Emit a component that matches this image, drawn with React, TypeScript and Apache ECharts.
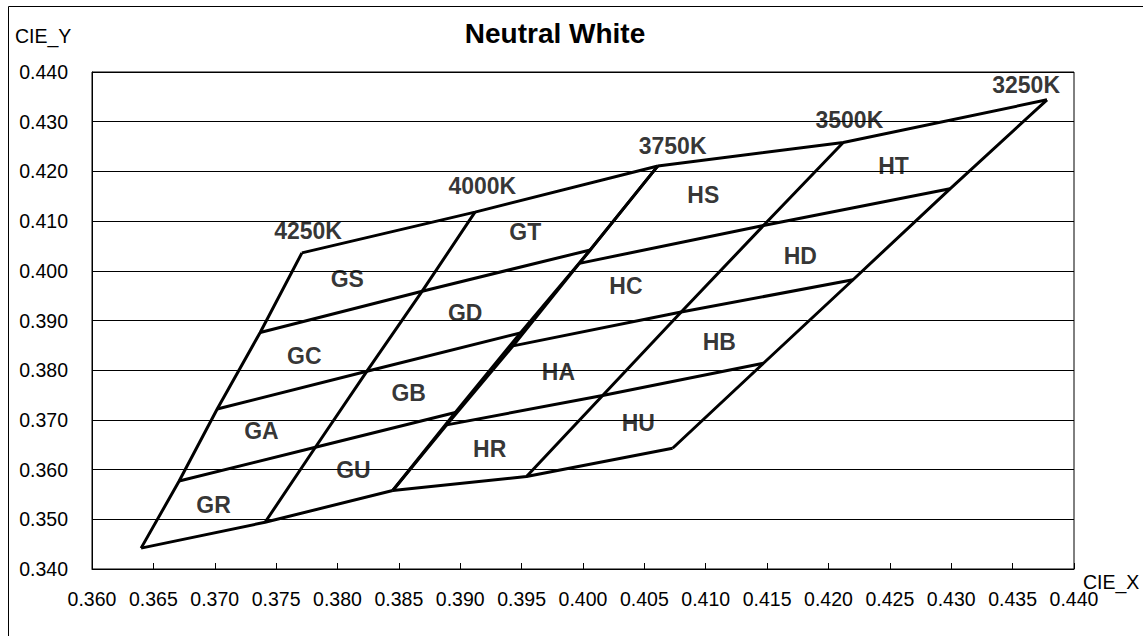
import React, { useEffect, useRef } from "react";
import * as echarts from "echarts";

// ---- Axis ranges / ticks ----
const xMin = 0.36;
const xMax = 0.44;
const xStep = 0.005;
const yMin = 0.34;
const yMax = 0.44;
const yStep = 0.01;

// ---- Iso-CCT boundary lines: vertices from top to bottom ----
const line4250X = [0.3771, 0.3737, 0.3702, 0.3671, 0.364];
const line4250Y = [0.4036, 0.3876, 0.3722, 0.3577, 0.3442];
const line4000X = [0.3912, 0.3869, 0.3824, 0.3782, 0.3741];
const line4000Y = [0.4118, 0.3959, 0.3798, 0.3645, 0.3494];
const line3750GX = [0.4061, 0.4006, 0.3949, 0.3896, 0.3845];
const line3750GY = [0.4211, 0.4042, 0.3875, 0.3715, 0.3558];
const line3750HX = [0.4061, 0.3997, 0.3943, 0.3889, 0.3845];
const line3750HY = [0.4211, 0.4015, 0.3849, 0.369, 0.3558];
const line3500X = [0.4212, 0.4147, 0.408, 0.4016, 0.3954];
const line3500Y = [0.4258, 0.4091, 0.3917, 0.3749, 0.3586];
const line3250X = [0.4378, 0.4299, 0.422, 0.4147, 0.4073];
const line3250Y = [0.4344, 0.4165, 0.3982, 0.3814, 0.3643];

// ---- Text annotations (data coordinates of label centres) ----
const cctNames = ["4250K", "4000K", "3750K", "3500K", "3250K"];
const cctLabelX = [0.3776, 0.3918, 0.4073, 0.4217, 0.4361];
const cctLabelY = [0.4081, 0.417, 0.4252, 0.4303, 0.4374];

const binNames = ["GS", "GT", "GC", "GD", "GA", "GB", "GR", "GU", "HS", "HT", "HC", "HD", "HA", "HB", "HR", "HU"];
const binLabelX = [0.3808, 0.3953, 0.3773, 0.3904, 0.3738, 0.3858, 0.3699, 0.3813, 0.4098, 0.4253, 0.4035, 0.4177, 0.398, 0.4111, 0.3924, 0.4045];
const binLabelY = [0.3984, 0.4079, 0.3829, 0.3915, 0.3677, 0.3754, 0.3529, 0.36, 0.4153, 0.4211, 0.397, 0.4029, 0.3796, 0.3856, 0.3642, 0.3694];

const FONT = "'Liberation Sans', Arial, sans-serif";

function zip(xs: number[], ys: number[]) {
  return xs.map((x, i) => [x, ys[i]]);
}

export default function App() {
  const ref = useRef<HTMLDivElement>(null);

  useEffect(() => {
    if (!ref.current) return;
    const chart = echarts.init(ref.current, undefined, { renderer: "svg" });

    const lineStyle = { color: "#000", width: 3 };
    const mkLine = (data: number[][]) => ({
      type: "line",
      data,
      symbol: "none",
      lineStyle,
      silent: true,
      z: 3,
    });

    const series: any[] = [];
    const gCols = [
      [line4250X, line4250Y],
      [line4000X, line4000Y],
      [line3750GX, line3750GY],
    ];
    const hCols = [
      [line3750HX, line3750HY],
      [line3500X, line3500Y],
      [line3250X, line3250Y],
    ];
    [gCols, hCols].forEach((cols) => {
      cols.forEach(([xs, ys]) => series.push(mkLine(zip(xs, ys))));
      for (let r = 0; r < 5; r++) {
        series.push(mkLine(cols.map(([xs, ys]) => [xs[r], ys[r]])));
      }
    });

    const labelSeries = (names: string[], xs: number[], ys: number[], size: number) => ({
      type: "scatter",
      data: names.map((n, i) => [xs[i], ys[i], n]),
      symbol: "circle",
      symbolSize: 1,
      itemStyle: { color: "rgba(0,0,0,0)" },
      silent: true,
      z: 4,
      label: {
        show: true,
        position: "inside",
        formatter: (p: any) => p.data[2],
        color: "#000",
        textBorderWidth: 0,
        fontWeight: "bold",
        fontSize: size,
        fontFamily: FONT,
      },
    });
    series.push(labelSeries(cctNames, cctLabelX, cctLabelY, 23));
    series.push(labelSeries(binNames, binLabelX, binLabelY, 23));

    chart.setOption({
      animation: false,
      backgroundColor: "#fff",
      textStyle: { fontFamily: FONT },
      grid: {
        left: 92,
        top: 72,
        width: 982,
        height: 497,
        show: true,
        borderColor: "#000",
        borderWidth: 1,
        backgroundColor: "transparent",
      },
      xAxis: {
        type: "value",
        min: xMin,
        max: xMax,
        interval: xStep,
        axisLine: { show: true, onZero: false, lineStyle: { color: "#000", width: 1 } },
        axisTick: { show: true, inside: true, length: 6, lineStyle: { color: "#000" } },
        axisLabel: {
          formatter: (v: number) => v.toFixed(3),
          fontSize: 19.5,
          color: "#000",
          margin: 20,
          fontFamily: FONT,
        },
        splitLine: { show: false },
      },
      yAxis: {
        type: "value",
        min: yMin,
        max: yMax,
        interval: yStep,
        axisLine: { show: true, onZero: false, lineStyle: { color: "#000", width: 1 } },
        axisTick: { show: false },
        axisLabel: {
          formatter: (v: number) => v.toFixed(3),
          fontSize: 19.5,
          color: "#000",
          margin: 24,
          fontFamily: FONT,
        },
        splitLine: { show: true, lineStyle: { color: "#000", width: 1 } },
      },
      graphic: [
        {
          type: "rect",
          shape: { x: 8.5, y: 6.5, width: 1200, height: 700 },
          style: { fill: "none", stroke: "#000", lineWidth: 1 },
          silent: true,
        },
        {
          type: "text",
          x: 555,
          y: 33,
          style: {
            text: "Neutral White",
            fontSize: 28,
            fontWeight: "bold",
            fill: "#000",
            fontFamily: FONT,
            align: "center",
            verticalAlign: "middle",
          },
          silent: true,
        },
        {
          type: "text",
          x: 15,
          y: 36,
          style: { text: "CIE_Y", fontSize: 19.5, fill: "#000", fontFamily: FONT, verticalAlign: "middle" },
          silent: true,
        },
        {
          type: "text",
          x: 1083,
          y: 582,
          style: { text: "CIE_X", fontSize: 19.5, fill: "#000", fontFamily: FONT, verticalAlign: "middle" },
          silent: true,
        },
      ],
      series,
    });

    return () => chart.dispose();
  }, []);

  return (
    <div
      ref={ref}
      style={{ position: "absolute", left: 0, top: 0, width: 1143, height: 636, background: "#fff" }}
    />
  );
}
